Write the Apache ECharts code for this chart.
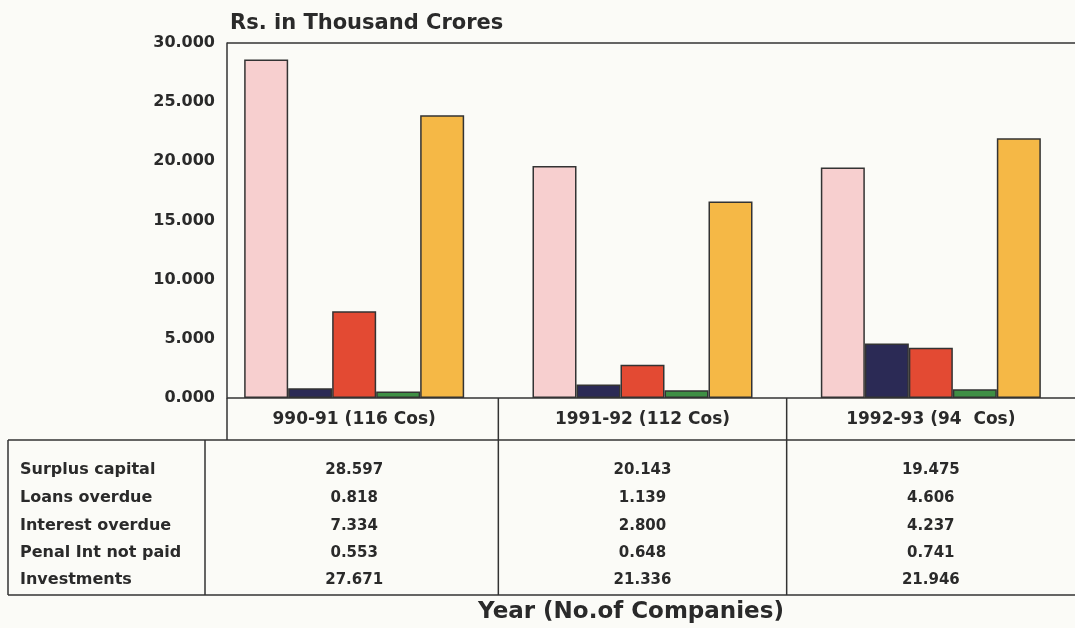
<!DOCTYPE html>
<html>
<head>
<meta charset="utf-8">
<script src="https://cdn.jsdelivr.net/npm/echarts@6/dist/echarts.min.js"></script>
<style>
  html, body { margin: 0; padding: 0; background: #fbfbf7; }
  #main { width: 1075px; height: 628px; }
</style>
</head>
<body>
<div id="main"></div>
<script>
// categories (the first label is printed without its leading "1" in the source)
const categories = ['990-91 (116 Cos)', '1991-92 (112 Cos)', '1992-93 (94  Cos)'];
const seriesNames = ['Surplus capital', 'Loans overdue', 'Interest overdue', 'Penal Int not paid', 'Investments'];

// values printed in the table
const surplusCapital = [28.597, 20.143, 19.475];
const loansOverdue = [0.818, 1.139, 4.606];
const interestOverdue = [7.334, 2.800, 4.237];
const penalInt = [0.553, 0.648, 0.741];
const investments = [27.671, 21.336, 21.946];

// bar heights as drawn in the picture (some differ from the table)
const surplusBars = [28.597, 19.6, 19.475];
const investmentsBars = [23.9, 16.6, 21.946];

const yTicks = [0, 5, 10, 15, 20, 25, 30];

const colors = ['#f7cfcf', '#2b2a55', '#e34a33', '#3f8f45', '#f5b846'];
const font = 'DejaVu Sans';
const ink = '#2a2a2a';

const tableRows = [surplusCapital, loansOverdue, interestOverdue, penalInt, investments];
const barRows = [surplusBars, loansOverdue, interestOverdue, penalInt, investmentsBars];

const chart = echarts.init(document.getElementById('main'));

// the plot runs off the right edge of the scan, and its first column is a bit narrower,
// so the grid starts left of the drawn y axis line
const gridLeft = 210, axisX = 227;

chart.setOption({
  backgroundColor: '#fbfbf7',
  animation: false,
  title: {
    text: 'Rs. in Thousand Crores',
    left: 225,
    top: 8,
    textStyle: { fontFamily: font, fontSize: 21, fontWeight: 'bold', color: ink }
  },
  grid: { left: gridLeft, right: 0, top: 43, bottom: 230, show: false },
  xAxis: {
    type: 'category',
    data: categories,
    axisLine: { show: false },
    axisTick: { show: false },
    axisLabel: {
      margin: 13,
      fontFamily: font, fontSize: 17, fontWeight: 'bold', color: ink
    }
  },
  yAxis: {
    type: 'value',
    min: yTicks[0],
    max: yTicks[yTicks.length - 1],
    interval: 5,
    offset: gridLeft - axisX,
    axisLine: { show: true, lineStyle: { color: '#333', width: 1.5 } },
    axisTick: { show: false },
    splitLine: { show: false },
    axisLabel: {
      margin: 12,
      formatter: v => v.toFixed(3),
      fontFamily: font, fontSize: 16, fontWeight: 'bold', color: ink
    }
  },
  series: seriesNames.map((name, i) => ({
    name: name,
    type: 'bar',
    data: barRows[i],
    barWidth: 44,
    barGap: '0%',
    itemStyle: { color: colors[i], borderColor: '#333', borderWidth: 1.5 }
  }))
});

// frame lines and the table under the axis, aligned with the category columns
const centers = categories.map(c => chart.convertToPixel({ xAxisIndex: 0 }, c));
const step = centers[1] - centers[0];
const topY = 43, zeroY = chart.convertToPixel({ yAxisIndex: 0 }, 0);
const catBottom = 440, tableBottom = 595, tableLeft = 8, labelDiv = 205;
const rowY = [470, 498, 526, 553, 580];
const lineStyle = { stroke: '#333', lineWidth: 1.5 };
const graphics = [];

const addLine = (x1, y1, x2, y2) => graphics.push({
  type: 'line', silent: true, z: 10,
  shape: { x1: x1, y1: y1, x2: x2, y2: y2 }, style: lineStyle
});

addLine(axisX, topY, 1075, topY);
addLine(axisX, zeroY, 1075, zeroY);
addLine(axisX, zeroY, axisX, catBottom);
addLine(tableLeft, catBottom, 1075, catBottom);
addLine(tableLeft, tableBottom, 1075, tableBottom);
addLine(tableLeft, catBottom, tableLeft, tableBottom);
addLine(labelDiv, catBottom, labelDiv, tableBottom);
for (let k = 1; k < categories.length; k++) {
  const bx = centers[k] - step / 2;
  addLine(bx, zeroY, bx, tableBottom);
}

seriesNames.forEach((name, r) => {
  graphics.push({
    type: 'text', silent: true, x: 20, y: rowY[r],
    style: {
      text: name, fill: ink, font: 'bold 16px "DejaVu Sans"',
      textAlign: 'left', textVerticalAlign: 'middle'
    }
  });
  tableRows[r].forEach((v, c) => {
    graphics.push({
      type: 'text', silent: true, x: centers[c], y: rowY[r],
      style: {
        text: v.toFixed(3), fill: ink, font: 'bold 15px "DejaVu Sans"',
        textAlign: 'center', textVerticalAlign: 'middle'
      }
    });
  });
});

graphics.push({
  type: 'text', silent: true, x: 631, y: 612,
  style: {
    text: 'Year (No.of Companies)', fill: ink, font: 'bold 23px "DejaVu Sans"',
    textAlign: 'center', textVerticalAlign: 'middle'
  }
});

chart.setOption({ graphic: graphics });
</script>
</body>
</html>
